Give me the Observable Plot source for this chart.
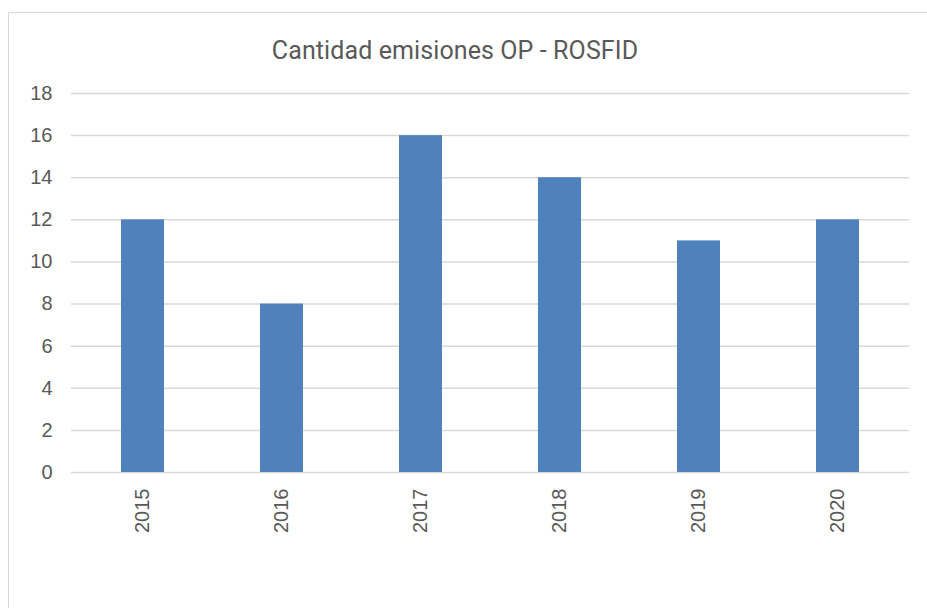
<!DOCTYPE html>
<html>
<head>
<meta charset="utf-8">
<script src="https://cdn.jsdelivr.net/npm/d3@7"></script>
<script src="https://cdn.jsdelivr.net/npm/@observablehq/plot@0.6"></script>
<style>
  html, body { margin: 0; padding: 0; background: #fff; }
  #wrap { position: relative; width: 927px; height: 608px; overflow: hidden; }
  #frame { position: absolute; left: 8px; top: 12px; width: 940px; height: 620px; border: 1.5px solid #d9d9d9; box-sizing: border-box; }
  #title { position: absolute; left: 0; top: 36px; width: 910px; text-align: center; font-family: Roboto, "Liberation Sans", sans-serif; font-size: 25px; letter-spacing: 0.1px; color: #595959; }
  #chart { position: absolute; left: 0; top: 0; }
</style>
</head>
<body>
<div id="wrap">
  <div id="frame"></div>
  <div id="title">Cantidad emisiones OP - ROSFID</div>
  <div id="chart"></div>
</div>
<script>
const years = ["2015", "2016", "2017", "2018", "2019", "2020"];
const counts = [12, 8, 16, 14, 11, 12];
const yTicks = [0, 2, 4, 6, 8, 10, 12, 14, 16, 18];

const data = years.map((y, i) => ({year: y, count: counts[i]}));

const plot = Plot.plot({
  width: 927,
  height: 608,
  marginLeft: 71,
  marginRight: 18,
  marginTop: 93,
  marginBottom: 136,
  style: {fontFamily: "'Liberation Sans', Arial, sans-serif", fontSize: "20px", color: "#595959", background: "transparent"},
  x: {domain: years, paddingInner: 0.69, paddingOuter: 0.345, label: null},
  y: {domain: [0, 18], label: null},
  marks: [
    Plot.ruleY(yTicks, {stroke: "#d9d9d9", strokeWidth: 1.5}),
    Plot.barY(data, {x: "year", y: "count", fill: "#4f81bd"}),
    Plot.axisY({ticks: yTicks, tickSize: 0, tickPadding: 19, label: null, fontSize: 20}),
    Plot.axisX({tickSize: 0, tickPadding: 16, tickRotate: -90, label: null, fontSize: 20})
  ]
});
document.getElementById("chart").appendChild(plot);
</script>
</body>
</html>
